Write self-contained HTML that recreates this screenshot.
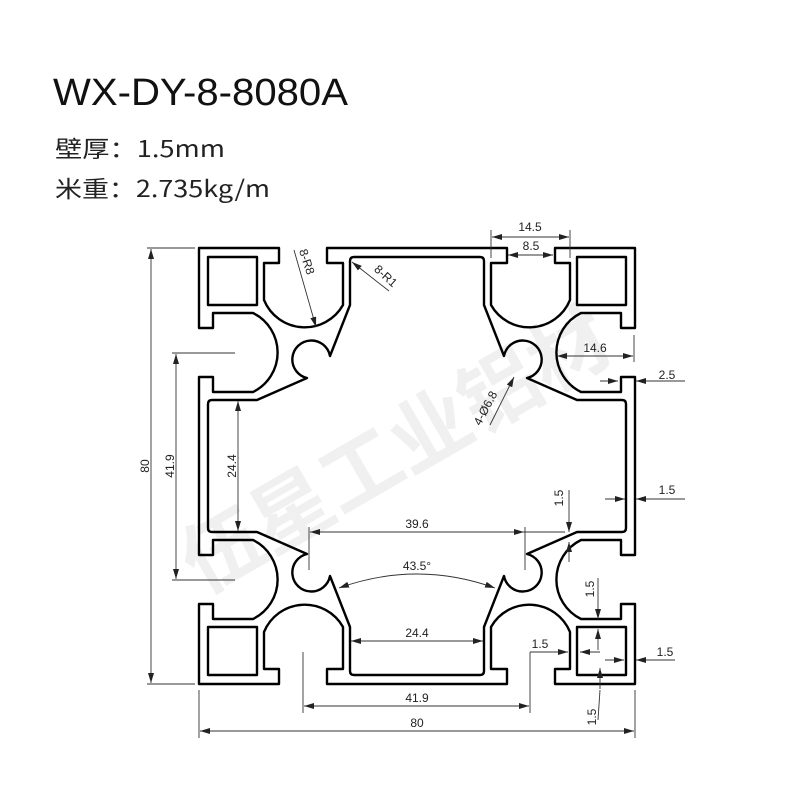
<!DOCTYPE html>
<html><head><meta charset="utf-8"><style>
html,body{margin:0;padding:0;background:#fff;}
svg{display:block}
</style></head><body>
<svg width="800" height="800" viewBox="0 0 800 800" xmlns="http://www.w3.org/2000/svg">
<defs>
<marker id="a" viewBox="0 0 10 6" refX="10" refY="3" markerWidth="10" markerHeight="6" markerUnits="userSpaceOnUse" orient="auto-start-reverse"><path d="M0,0 L10,3 L0,6 Z" fill="#222"/></marker>
<g id="q" fill="none" stroke="#000" stroke-width="2.4" stroke-linejoin="round">
<path d="M199,466 L199,377 L213,377 L213,392 L253,392 A44 44 0 0 0 253,313 L213,313 L213,328 L199,328 L199,248 L279,248 L279,263 L264,263 L264,300 A44 44 0 0 0 343,305 L343,263 L327,263 L327,248 L417,248"/>
<rect x="208" y="257" width="49" height="48"/>
<path d="M417,257 L354,257 Q350,257 350,261 L350,305 L330,356 A19 19 0 1 0 307,378 L257,400 L212,400 Q208,400 208,404 L208,466"/>
</g>
</defs>
<text x="53" y="105" font-family="Liberation Sans, sans-serif" font-size="38" textLength="295" lengthAdjust="spacingAndGlyphs" fill="#111">WX-DY-8-8080A</text>
<text x="55" y="157" font-family="Noto Sans CJK SC, sans-serif" font-size="23" textLength="170" lengthAdjust="spacingAndGlyphs" fill="#222">壁厚：1.5mm</text>
<text x="55" y="197" font-family="Noto Sans CJK SC, sans-serif" font-size="23" textLength="215" lengthAdjust="spacingAndGlyphs" fill="#222">米重：2.735kg/m</text>

<text x="410" y="475" transform="rotate(-30 410 475)" text-anchor="middle" font-family="Noto Sans CJK SC, sans-serif" font-size="80" fill="#f0f0f0" font-weight="bold">伍星工业铝材</text>

<use href="#q"/>
<use href="#q" transform="translate(834,0) scale(-1,1)"/>
<use href="#q" transform="translate(0,932) scale(1,-1)"/>
<use href="#q" transform="translate(834,932) scale(-1,-1)"/>

<g stroke="#333" stroke-width="0.9" fill="none">
<line x1="147" y1="248" x2="195" y2="248"/><line x1="147" y1="684" x2="195" y2="684"/>
<line x1="151" y1="249" x2="151" y2="683" marker-start="url(#a)" marker-end="url(#a)"/>
<line x1="172" y1="353" x2="235" y2="353"/><line x1="172" y1="580" x2="235" y2="580"/>
<line x1="176" y1="354" x2="176" y2="579" marker-start="url(#a)" marker-end="url(#a)"/>
<line x1="238" y1="401" x2="238" y2="531" marker-start="url(#a)" marker-end="url(#a)"/>
<line x1="309" y1="527" x2="309" y2="570"/><line x1="525" y1="527" x2="525" y2="570"/>
<line x1="310" y1="532" x2="524" y2="532" marker-start="url(#a)" marker-end="url(#a)"/>
<path d="M339,588 Q417,560 495,588" marker-start="url(#a)" marker-end="url(#a)"/>
<line x1="351" y1="641" x2="483" y2="641" marker-start="url(#a)" marker-end="url(#a)"/>
<line x1="303" y1="652" x2="303" y2="713"/><line x1="530" y1="652" x2="530" y2="713"/>
<line x1="304" y1="706" x2="529" y2="706" marker-start="url(#a)" marker-end="url(#a)"/>
<line x1="199" y1="690" x2="199" y2="738"/><line x1="635" y1="690" x2="635" y2="738"/>
<line x1="200" y1="731" x2="634" y2="731" marker-start="url(#a)" marker-end="url(#a)"/>
<line x1="491" y1="230" x2="491" y2="258"/><line x1="570" y1="230" x2="570" y2="258"/>
<line x1="492" y1="237" x2="569" y2="237" marker-start="url(#a)" marker-end="url(#a)"/>
<line x1="508" y1="255" x2="553" y2="255" marker-start="url(#a)" marker-end="url(#a)"/>
<line x1="634" y1="335" x2="634" y2="362"/>
<line x1="557" y1="356" x2="633" y2="356" marker-start="url(#a)" marker-end="url(#a)"/>
<line x1="600" y1="381" x2="618" y2="381" marker-end="url(#a)"/>
<line x1="685" y1="381" x2="636" y2="381" marker-end="url(#a)"/>
<line x1="605" y1="499" x2="625" y2="499" marker-end="url(#a)"/>
<line x1="685" y1="499" x2="636" y2="499" marker-end="url(#a)"/>
<line x1="569" y1="490" x2="569" y2="532" marker-end="url(#a)"/>
<line x1="569" y1="562" x2="569" y2="542" marker-end="url(#a)"/>
<line x1="524" y1="532" x2="565" y2="532"/>
<line x1="598" y1="578" x2="598" y2="619" marker-end="url(#a)"/>
<line x1="598" y1="650" x2="598" y2="629" marker-end="url(#a)"/>
<line x1="600" y1="668" x2="600" y2="689" marker-start="url(#a)"/>
<line x1="598" y1="720" x2="600" y2="690"/>
<line x1="530" y1="652" x2="568" y2="652" marker-end="url(#a)"/>
<line x1="600" y1="652" x2="580" y2="652" marker-end="url(#a)"/>
<line x1="605" y1="660" x2="624" y2="660" marker-end="url(#a)"/>
<line x1="675" y1="660" x2="636" y2="660" marker-end="url(#a)"/>
<line x1="294" y1="250" x2="316" y2="327" marker-end="url(#a)"/>
<line x1="389" y1="291" x2="352" y2="262" marker-end="url(#a)"/>
<line x1="490" y1="425" x2="514" y2="377" marker-end="url(#a)"/>
</g>

<g font-family="Liberation Sans, sans-serif" font-size="12" fill="#222" text-anchor="middle">
<text x="145" y="470" transform="rotate(-90 145 466)">80</text>
<text x="170" y="470" transform="rotate(-90 170 466)">41.9</text>
<text x="232" y="470" transform="rotate(-90 232 466)">24.4</text>
<text x="417" y="528">39.6</text>
<text x="417" y="570">43.5°</text>
<text x="417" y="637">24.4</text>
<text x="417" y="702">41.9</text>
<text x="417" y="727">80</text>
<text x="530" y="231">14.5</text>
<text x="531" y="250">8.5</text>
<text x="595" y="352">14.6</text>
<text x="667" y="379">2.5</text>
<text x="667" y="494">1.5</text>
<text x="665" y="656">1.5</text>
<text x="540" y="648">1.5</text>
<text x="563" y="498" transform="rotate(-90 563 498)">1.5</text>
<text x="594" y="589" transform="rotate(-90 594 589)">1.5</text>
<text x="596" y="717" transform="rotate(-90 596 717)">1.5</text>
<text x="303" y="263" transform="rotate(72 303 263)">8-R8</text>
<text x="383" y="279" transform="rotate(42 383 279)">8-R1</text>
<text x="489" y="410" transform="rotate(-62 489 410)">4-Ø6.8</text>
</g>
</svg>
</body></html>
